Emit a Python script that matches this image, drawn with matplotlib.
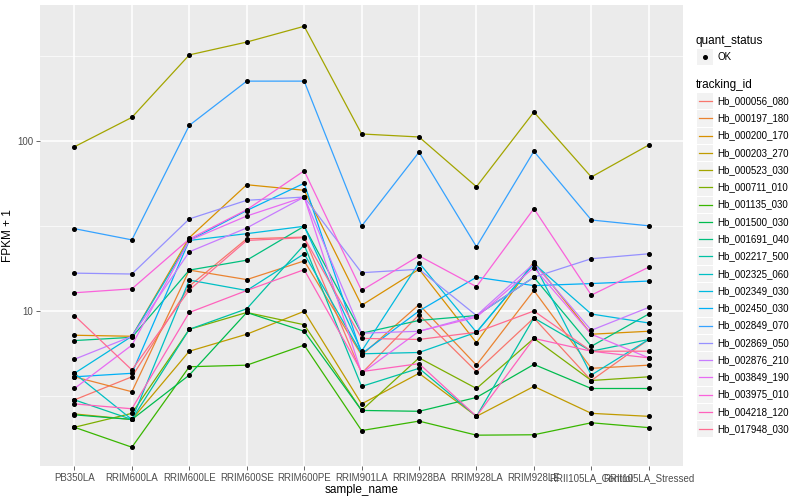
import matplotlib
matplotlib.use('Agg')
import matplotlib.pyplot as plt
import numpy as np
from matplotlib.patches import Rectangle
from matplotlib.ticker import FixedLocator, NullFormatter

plt.rcParams['font.family'] = ['Liberation Sans', 'DejaVu Sans']

samples = ['PB350LA', 'RRIM600LA', 'RRIM600LE', 'RRIM600SE', 'RRIM600PE',
           'RRIM901LA', 'RRIM928BA', 'RRIM928LA', 'RRIM928LE',
           'RRII105LA_Control', 'RRII105LA_Stressed']

tracking_ids = ['Hb_000056_080', 'Hb_000197_180', 'Hb_000200_170', 'Hb_000203_270',
                'Hb_000523_030', 'Hb_000711_010', 'Hb_001135_030', 'Hb_001500_030',
                'Hb_001691_040', 'Hb_002217_500', 'Hb_002325_060', 'Hb_002349_030',
                'Hb_002450_030', 'Hb_002849_070', 'Hb_002869_050', 'Hb_002876_210',
                'Hb_003849_190', 'Hb_003975_010', 'Hb_004218_120', 'Hb_017948_030']

# ggplot hue palette, 20 levels
colors = ['#F8766D', '#EA8331', '#D89000', '#C09B00', '#A3A500', '#7CAE00', '#39B600',
          '#00BB4E', '#00BF7D', '#00C1A3', '#00BFC4', '#00BAE0', '#00B0F6', '#35A2FF',
          '#9590FF', '#C77CFF', '#E76BF3', '#FA62DB', '#FF62BC', '#FF6C91']

# FPKM + 1, one row per tracking_id, one column per sample
fpkm1 = [
    [3.0, 4.1, 14.0, 26.6, 27.2, 4.3, 9.5, 4.4, 9.1, 3.9, 6.8],        # 000056_080
    [4.1, 3.35, 17.4, 15.3, 19.7, 5.5, 10.9, 4.8, 13.2, 4.6, 4.8],     # 000197_180
    [7.2, 7.1, 27.0, 55.3, 51.3, 10.8, 17.6, 6.5, 19.5, 7.3, 7.6],     # 000200_170
    [2.48, 2.3, 5.8, 7.3, 9.96, 2.84, 4.3, 2.4, 3.6, 2.5, 2.4],        # 000203_270
    [92.5, 137.7, 321, 382, 473, 110, 105.6, 53.8, 148, 61.4, 94.7],   # 000523_030
    [2.07, 2.5, 7.8, 9.8, 8.3, 2.6, 5.3, 3.5, 6.9, 3.9, 4.1],          # 000711_010
    [2.07, 1.58, 4.7, 4.8, 6.3, 1.98, 2.25, 1.86, 1.87, 2.2, 2.06],    # 001135_030
    [2.45, 2.3, 4.2, 9.8, 7.6, 2.6, 2.57, 3.1, 4.85, 3.5, 3.5],        # 001500_030
    [6.7, 7.0, 17.4, 19.9, 31.5, 7.4, 8.8, 9.4, 15.8, 6.2, 9.6],       # 001691_040
    [3.0, 2.3, 7.8, 10.3, 24.5, 3.6, 4.6, 2.4, 9.1, 5.8, 6.8],         # 002217_500
    [4.3, 2.3, 15.2, 13.2, 21.7, 5.6, 5.7, 7.5, 19.0, 4.2, 6.8],       # 002325_060
    [4.3, 7.1, 26.0, 28.5, 31.5, 5.8, 19.2, 7.5, 19.0, 9.6, 8.5],      # 002349_030
    [4.1, 4.3, 26.0, 39.0, 56.4, 5.6, 10.0, 15.8, 14.1, 14.5, 15.0],   # 002450_030
    [30.5, 26.2, 123.6, 225, 225, 31.6, 86, 23.9, 87, 34.3, 31.7],     # 002849_070
    [16.7, 16.5, 34.8, 44.8, 46.8, 16.8, 17.6, 9.4, 15.8, 20.3, 21.7], # 002869_050
    [5.2, 7.1, 22.3, 30.8, 46.8, 7.4, 7.6, 9.4, 19.0, 7.7, 10.5],      # 002876_210
    [3.5, 6.3, 26.0, 36.2, 46.8, 4.3, 7.6, 9.2, 18.0, 7.3, 5.3],       # 003849_190
    [12.8, 13.5, 26.5, 39.4, 66.8, 13.2, 21.1, 13.9, 40.0, 12.4, 18.1],# 003975_010
    [2.84, 2.66, 9.8, 13.2, 17.5, 4.4, 4.9, 2.4, 6.9, 5.8, 5.3],       # 004218_120
    [9.4, 4.5, 13.3, 26.0, 27.0, 6.9, 6.8, 7.5, 10.0, 5.8, 5.8],       # 017948_030
]

fig = plt.figure(figsize=(8, 5), dpi=100)
ax = fig.add_axes([0.05, 0.068, 0.804, 0.922])
ax.set_facecolor('#EBEBEB')

x = np.arange(len(samples))
for vals, col in zip(fpkm1, colors):
    ax.plot(x, vals, color=col, linewidth=0.9, zorder=3)
for vals in fpkm1:
    ax.plot(x, vals, linestyle='none', marker='o', markersize=2.6, color='black', zorder=4)

ax.set_yscale('log')
ax.set_ylim(1.225, 631)
ax.set_xlim(-0.6, 10.6)
ax.yaxis.set_major_locator(FixedLocator([10, 100]))
ax.yaxis.set_minor_locator(FixedLocator([10 ** 0.5, 10 ** 1.5, 10 ** 2.5]))
ax.yaxis.set_minor_formatter(NullFormatter())
ax.set_yticklabels(['10', '100'])
ax.set_xticks(x)
ax.set_xticklabels(samples)
ax.grid(which='major', color='white', linewidth=1.1, zorder=0)
ax.grid(which='minor', axis='y', color='white', linewidth=0.5, zorder=0)
ax.set_axisbelow(True)
for s in ax.spines.values():
    s.set_visible(False)
ax.tick_params(axis='both', which='major', labelsize=7, colors='#4D4D4D', length=3, width=0.6, pad=2)
ax.tick_params(axis='y', which='minor', length=0)
ax.set_xlabel('sample_name', fontsize=8.5, labelpad=1)
ax.yaxis.set_label_coords(-0.04, 0.5)
ax.set_ylabel('FPKM + 1', fontsize=8.5)

# legend drawn in pixel coordinates
lg = fig.add_axes([0, 0, 1, 1])
lg.set_xlim(0, 800)
lg.set_ylim(500, 0)
lg.axis('off')
lg.text(696, 41, 'quant_status', fontsize=8.5, va='center', ha='left')
lg.add_patch(Rectangle((697, 49), 16, 16, facecolor='#F2F2F2', edgecolor='none'))
lg.plot([705], [57], marker='o', markersize=2.6, color='black')
lg.text(717, 57, 'OK', fontsize=7, va='center', ha='left')
lg.text(696, 85, 'tracking_id', fontsize=8.5, va='center', ha='left')
step = 17.27
for i, (tid, col) in enumerate(zip(tracking_ids, colors)):
    yc = 101 + i * step
    lg.add_patch(Rectangle((697, yc - 8), 16, 16.3, facecolor='#F2F2F2', edgecolor='none'))
    lg.plot([698.5, 711.5], [yc, yc], color=col, linewidth=0.9)
    lg.text(717, yc, tid, fontsize=7, va='center', ha='left')

fig.savefig('out.png', dpi=100)
